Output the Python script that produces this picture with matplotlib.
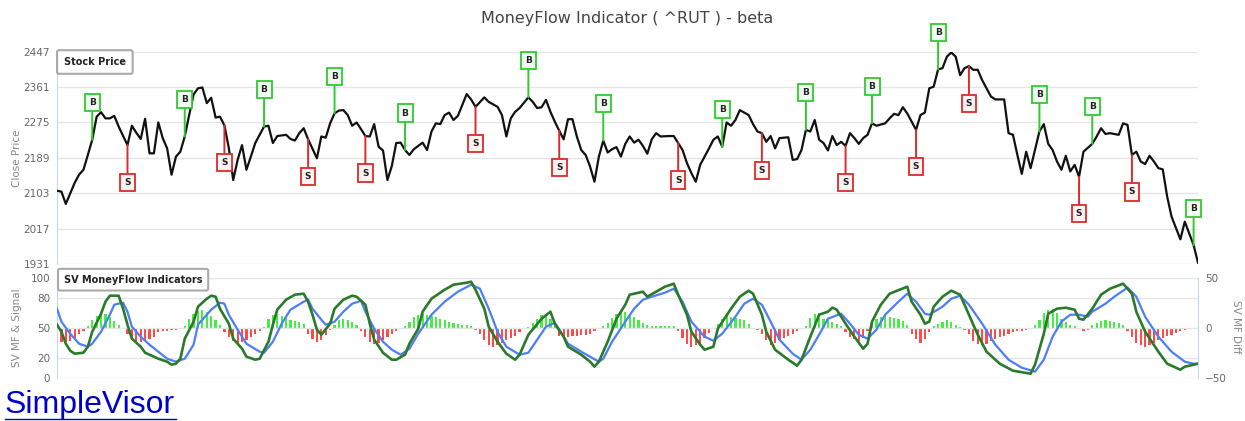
import matplotlib
matplotlib.use("Agg")
import matplotlib.pyplot as plt

# ---- data (x = trading day index) ----
days = [0, 1, 2, 4, 5, 6, 7, 8, 9, 10, 11, 12, 13, 14, 16, 17, 18, 19, 20, 21,
        22, 23, 24, 25, 26, 27, 28, 29, 30, 31, 32, 33, 34, 35, 36, 37, 38, 39, 40, 41,
        42, 43, 44, 45, 46, 47, 48, 49, 50, 52, 53, 54, 55, 56, 57, 59, 60, 61, 62, 63,
        64, 65, 66, 67, 68, 69, 70, 71, 72, 73, 74, 75, 76, 77, 78, 79, 80, 81, 83, 84,
        85, 86, 87, 88, 89, 90, 91, 93, 94, 95, 97, 98, 100, 101, 102, 103, 104, 105, 107, 108,
        109, 110, 111, 112, 113, 114, 115, 116, 117, 118, 119, 120, 121, 122, 123, 124, 125, 126, 127, 128,
        129, 130, 131, 132, 133, 134, 135, 136, 137, 139, 140, 141, 142, 143, 144, 145, 146, 148, 149, 150,
        151, 152, 153, 154, 155, 157, 158, 159, 160, 161, 162, 163, 164, 166, 167, 168, 169, 170, 171, 172,
        173, 174, 175, 176, 177, 178, 179, 180, 181, 182, 183, 184, 185, 186, 188, 189, 190, 191, 192, 193,
        195, 196, 197, 198, 199, 200, 201, 202, 203, 204, 205, 206, 207, 208, 209, 210, 211, 212, 213, 215,
        216, 217, 218, 219, 220, 221, 222, 223, 224, 225, 226, 227, 228, 229, 230, 231, 232, 233, 235, 236,
        237, 238, 239, 241, 242, 243, 244, 245, 246, 247, 248, 249, 250, 251, 252, 253, 255, 256, 258, 259]
close = [2109, 2107, 2077, 2128, 2148, 2160, 2196, 2233, 2289, 2300, 2285, 2285, 2291, 2265, 2220, 2267, 2250, 2235, 2284, 2200,
         2200, 2275, 2237, 2212, 2148, 2192, 2204, 2241, 2293, 2343, 2358, 2360, 2322, 2335, 2287, 2289, 2268, 2213, 2135, 2184,
         2220, 2160, 2192, 2225, 2245, 2265, 2267, 2225, 2242, 2245, 2235, 2231, 2249, 2261, 2234, 2188, 2241, 2238, 2273, 2297,
         2304, 2305, 2293, 2267, 2275, 2259, 2242, 2241, 2271, 2216, 2207, 2135, 2169, 2225, 2226, 2208, 2196, 2210, 2226, 2208,
         2253, 2273, 2271, 2293, 2299, 2281, 2291, 2344, 2331, 2313, 2336, 2325, 2313, 2293, 2241, 2285, 2301, 2310, 2336, 2325,
         2310, 2312, 2330, 2301, 2277, 2255, 2234, 2283, 2283, 2241, 2208, 2196, 2168, 2131, 2192, 2231, 2202, 2210, 2215, 2192,
         2223, 2241, 2226, 2233, 2218, 2199, 2234, 2249, 2241, 2242, 2242, 2225, 2208, 2176, 2152, 2131, 2172, 2212, 2233, 2241,
         2216, 2275, 2267, 2281, 2305, 2293, 2271, 2253, 2249, 2228, 2242, 2212, 2237, 2239, 2184, 2186, 2208, 2257, 2253, 2281,
         2233, 2225, 2207, 2242, 2220, 2228, 2218, 2249, 2237, 2223, 2237, 2245, 2273, 2267, 2273, 2285, 2296, 2293, 2312, 2297,
         2257, 2293, 2299, 2358, 2362, 2404, 2407, 2435, 2445, 2435, 2390, 2407, 2412, 2403, 2403, 2378, 2358, 2338, 2331, 2331,
         2249, 2245, 2196, 2150, 2204, 2164, 2208, 2253, 2271, 2223, 2208, 2180, 2160, 2194, 2156, 2172, 2143, 2204, 2223, 2241,
         2261, 2247, 2249, 2245, 2273, 2269, 2196, 2204, 2180, 2174, 2194, 2180, 2164, 2161, 2095, 2046, 1991, 2034, 1977, 1934]

buy_days = [8, 29, 47, 63, 79, 107, 124, 151, 170, 185, 200, 223, 235, 258]
sell_days = [16, 38, 57, 70, 95, 114, 141, 160, 179, 195, 207, 232, 244]

mf_days = [0, 1, 2, 3, 4, 6, 7, 8, 10, 11, 12, 14, 15, 16, 17, 19, 20, 22, 23, 25,
           26, 27, 28, 29, 31, 32, 34, 35, 36, 37, 39, 40, 42, 43, 45, 46, 48, 49, 50, 52,
           54, 56, 57, 58, 59, 60, 62, 63, 65, 67, 68, 70, 71, 72, 74, 76, 77, 79, 80, 82,
           83, 85, 88, 90, 93, 94, 95, 97, 98, 100, 102, 104, 105, 107, 110, 112, 113, 115, 116, 119,
           121, 122, 123, 125, 127, 129, 130, 133, 134, 136, 138, 140, 141, 143, 144, 146, 147, 149, 150, 153,
           155, 157, 158, 160, 161, 163, 166, 168, 169, 171, 173, 175, 176, 177, 179, 181, 183, 184, 185, 187,
           189, 193, 194, 196, 197, 198, 199, 201, 203, 205, 207, 209, 211, 214, 217, 221, 222, 224, 225, 227,
           229, 231, 232, 233, 235, 237, 239, 242, 244, 245, 247, 250, 252, 255, 256, 259]
mf = [53, 46, 34, 27, 24, 25, 31, 46, 64, 76, 82, 82, 69, 53, 39, 31, 25, 21, 19, 16,
      13, 14, 19, 39, 56, 71, 79, 82, 81, 69, 54, 39, 29, 21, 18, 19, 36, 53, 68, 78,
      83, 84, 76, 63, 48, 43, 54, 69, 78, 82, 81, 73, 54, 38, 25, 18, 18, 23, 34, 49,
      66, 79, 88, 93, 95, 96, 88, 69, 51, 36, 24, 18, 23, 43, 59, 66, 54, 41, 31, 23,
      16, 11, 16, 36, 59, 73, 83, 86, 81, 86, 91, 94, 83, 63, 46, 33, 28, 31, 49, 69,
      81, 87, 84, 63, 46, 28, 18, 12, 18, 41, 63, 66, 70, 68, 54, 41, 29, 34, 56, 73,
      84, 91, 76, 63, 54, 56, 71, 81, 87, 83, 63, 43, 26, 14, 7, 4, 13, 44, 64, 69,
      70, 68, 59, 58, 69, 83, 89, 94, 84, 66, 46, 26, 14, 8, 11, 14]

sig_days = [0, 1, 3, 5, 7, 8, 10, 12, 13, 15, 16, 17, 19, 21, 23, 25, 27, 29, 31, 32,
            35, 37, 38, 39, 41, 43, 46, 47, 49, 51, 53, 56, 57, 58, 60, 61, 63, 65, 67, 69,
            70, 72, 74, 76, 78, 80, 82, 85, 88, 91, 94, 96, 98, 100, 102, 105, 107, 109, 111, 113,
            114, 116, 119, 123, 124, 126, 129, 131, 133, 135, 138, 140, 142, 144, 147, 149, 151, 154, 156, 158,
            160, 162, 164, 167, 169, 171, 173, 175, 178, 180, 182, 184, 186, 188, 191, 193, 195, 197, 198, 201,
            203, 205, 207, 210, 213, 216, 219, 222, 224, 226, 228, 230, 232, 234, 235, 238, 240, 243, 245, 247,
            250, 253, 256, 258, 259]
signal = [69, 56, 44, 34, 31, 34, 46, 63, 73, 75, 66, 51, 41, 33, 26, 19, 16, 19, 33, 53,
          68, 75, 74, 63, 48, 34, 26, 25, 36, 54, 68, 76, 78, 69, 58, 53, 56, 66, 74, 77,
          66, 49, 36, 28, 23, 29, 44, 63, 76, 86, 93, 89, 69, 46, 31, 23, 25, 38, 51, 55,
          48, 34, 26, 16, 19, 36, 56, 69, 78, 81, 85, 89, 76, 56, 41, 37, 44, 61, 74, 79,
          73, 56, 38, 24, 18, 28, 43, 59, 64, 54, 43, 39, 48, 63, 76, 84, 76, 64, 63, 71,
          79, 82, 73, 54, 33, 18, 10, 6, 18, 41, 56, 63, 63, 61, 66, 74, 81, 90, 81, 61,
          41, 26, 16, 14, 14]

mf_diff = [-15, -14, -14, -13, -10, -6, -3,
           2, 8, 12, 14, 14, 11, 7,
           3, 0, -6, -12, -14, -14, -13, -11, -9, -4, -3, -3, -2, -2, -1,
           2, 9, 14, 17, 18, 16, 12, 8, 3,
           -4, -9, -13, -15, -14, -12, -9, -6, -3,
           1, 9, 13, 14, 12, 10, 8, 7, 6, 4,
           -6, -11, -14, -12, -7, -2,
           3, 8, 9, 8, 6, 3,
           -3, -9, -14, -16, -15, -12, -9, -6, -3,
           0,
           2, 6, 11, 13, 14, 13, 12, 11, 9, 8, 6, 5, 4, 3, 3, 2,
           -2, -6, -12, -17, -19, -17, -15, -12, -10, -8, -4,
           0,
           1, 5, 9, 13, 13, 9, 4,
           -8, -9, -9, -8, -8, -7, -7, -6, -3,
           0,
           2, 5, 10, 14, 16, 16, 14, 11, 8, 5, 3, 2, 2, 2, 2, 2, 2,
           -3, -10, -16, -19, -17, -15, -10, -5,
           0,
           4, 9, 12, 11, 10, 9, 8, 4,
           0,
           -2, -6, -12, -17, -15, -12, -10, -8, -6, -3,
           0,
           2, 10, 14, 15, 9, 8, 6, 4, 2,
           -4, -9, -11, -13, -10,
           -3,
           5, 9, 11, 13, 11, 10, 9, 7, 3,
           -6, -11, -15, -11, -4,
           2, 4, 6, 8, 6, 3, 1,
           -2, -6, -13, -16, -17, -16, -13, -11, -9, -8, -6, -4, -3, -3, -2, -1,
           3, 8, 15, 18, 19, 15, 9, 6, 3, 2,
           -1, -3, -2,
           3, 5, 7, 8, 7, 6, 5, 3,
           -3, -9, -15, -17, -19, -17, -15, -12, -10, -8, -7, -5, -3,
           -2, -1, -1, 0]

price_ticks = [1931, 2017, 2103, 2189, 2275, 2361, 2447]

# ---- styling ----
GRID = "#e6e6e6"
AXIS = "#c8d6ec"
TICK = "#666666"
BUY = "#2ecc2e"
SELL = "#dd2a2a"

fig = plt.figure(figsize=(12.45, 4.21), dpi=100)
W, H = 1245.0, 421.0
x0, x1 = 57 / W, 1198 / W

ax = fig.add_axes([x0, 1 - 264 / H, x1 - x0, (264 - 51.7) / H])
axb = fig.add_axes([x0, 1 - 377.7 / H, x1 - x0, (377.7 - 277.7) / H])
axd = axb.twinx()
axb.set_zorder(axd.get_zorder() + 1)
axb.patch.set_visible(False)

for a in (ax, axb, axd):
    for s in a.spines.values():
        s.set_visible(False)
    a.tick_params(length=0, labelsize=7.5, labelcolor=TICK, pad=5)
    a.set_xlim(0, 259)
    a.set_xticks([])

ax.spines["left"].set_visible(True)
ax.spines["left"].set_color(AXIS)
axb.spines["left"].set_visible(True)
axb.spines["left"].set_color(AXIS)
axd.spines["right"].set_visible(True)
axd.spines["right"].set_color(AXIS)

# ---- stock price panel ----
ax.set_ylim(1931, 2447)
ax.set_yticks(price_ticks)
ax.grid(axis="y", color=GRID, lw=1)
ax.set_axisbelow(True)
ax.plot(days, close, color="#111111", lw=1.6, zorder=3)

price_at = dict(zip(days, close))
for d in buy_days:
    ax.annotate("B", xy=(d, price_at[d]), xytext=(0, 37), textcoords="offset pixels",
                ha="center", va="center", fontsize=6.5, fontweight="bold", color="#222222",
                bbox=dict(boxstyle="square,pad=0.45", fc="#f4fff4", ec=BUY, lw=1.3),
                arrowprops=dict(arrowstyle="-", color=BUY, lw=1.4, shrinkA=0, shrinkB=0),
                zorder=4)
for d in sell_days:
    ax.annotate("S", xy=(d, price_at[d]), xytext=(0, -37), textcoords="offset pixels",
                ha="center", va="center", fontsize=6.5, fontweight="bold", color="#222222",
                bbox=dict(boxstyle="square,pad=0.45", fc="#fff4f4", ec=SELL, lw=1.3),
                arrowprops=dict(arrowstyle="-", color=SELL, lw=1.4, shrinkA=0, shrinkB=0),
                zorder=4)

ax.text(0.006, 0.975, "Stock Price", transform=ax.transAxes, ha="left", va="top",
        fontsize=7, fontweight="bold", color="#222222", zorder=5,
        bbox=dict(boxstyle="round,pad=0.7,rounding_size=0.2", fc="white", ec="#aaaaaa", lw=1.5))

# ---- money flow panel ----
axb.set_ylim(0, 100)
axb.set_yticks([0, 20, 50, 80, 100])
axb.grid(axis="y", color=GRID, lw=1)
axd.set_ylim(-50, 50)
axd.set_yticks([-50, 0, 50])

bar_colors = ["#44ee44" if v >= 0 else "#ff4a4a" for v in mf_diff]
axd.bar(range(len(mf_diff)), mf_diff, width=0.5, color=bar_colors, lw=0)

axb.plot(sig_days, signal, color="#4d7ef7", lw=1.6, zorder=3)
axb.plot(mf_days, mf, color="#2b7a2b", lw=1.9, zorder=4)

axb.text(0.006, 1.03, "SV MoneyFlow Indicators", transform=axb.transAxes, ha="left", va="top",
         fontsize=7, fontweight="bold", color="#222222", zorder=5,
         bbox=dict(boxstyle="round,pad=0.6,rounding_size=0.2", fc="white", ec="#aaaaaa", lw=1.5))

# ---- labels ----
fig.text(627.5 / W, 1 - 18 / H, "MoneyFlow Indicator ( ^RUT ) - beta", ha="center", va="center",
         fontsize=11.5, color="#444444")
fig.text(17 / W, 1 - 158 / H, "Close Price", rotation=90, ha="center", va="center",
         fontsize=7.5, color="#888888")
fig.text(17 / W, 1 - 328 / H, "SV MF & Signal", rotation=90, ha="center", va="center",
         fontsize=7.5, color="#888888")
fig.text(1236 / W, 1 - 327 / H, "SV MF Diff", rotation=270, ha="center", va="center",
         fontsize=7.5, color="#888888")

fig.text(5 / W, 1 - 413 / H, "SimpleVisor", ha="left", va="baseline",
         fontsize=23, color="#0000cc", family="Liberation Sans")
fig.add_artist(plt.Line2D([5 / W, 176 / W], [1 - 419 / H, 1 - 419 / H], color="#0000cc", lw=1))

fig.savefig("out.png", dpi=100)
